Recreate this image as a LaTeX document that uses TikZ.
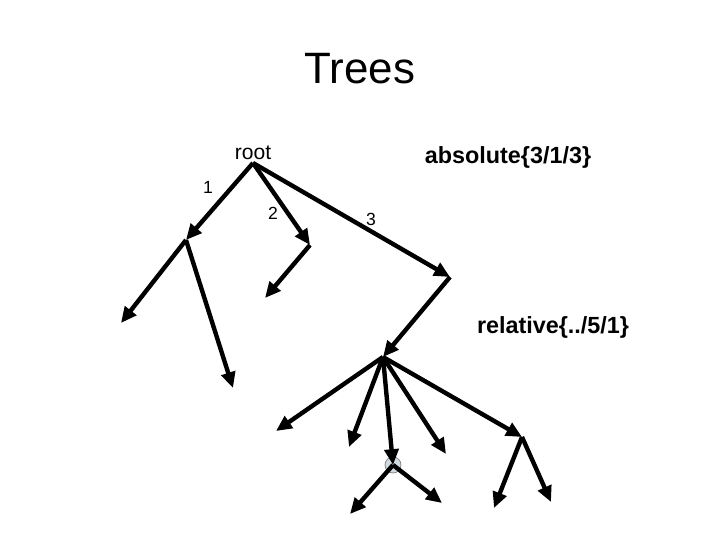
\documentclass[tikz,border=0pt]{standalone}
\usepackage{fontspec}
\setmainfont{Liberation Sans}
\usetikzlibrary{arrows.meta}
\begin{document}
\begin{tikzpicture}[x=0.02cm,y=-0.02cm,
  branch/.style={line width=2.5pt,-{Triangle[length=9pt,width=8pt]}},
  lbl/.style={inner sep=0pt,font=\fontsize{10}{12}\selectfont},
  note/.style={inner sep=0pt,font=\fontsize{13.3}{16}\bfseries}]
\useasboundingbox (0,0) rectangle (720,540);
\coordinate (root) at (253,163);
\coordinate (a) at (186,240);
\coordinate (aa) at (121,323);
\coordinate (ab) at (233,388);
\coordinate (b) at (310,245);
\coordinate (ba) at (265,298);
\coordinate (c) at (450,277);
\coordinate (d) at (383,357);
\coordinate (da) at (276,431);
\coordinate (db) at (349,447);
\coordinate (dc) at (393,465);
\coordinate (dd) at (446,454);
\coordinate (de) at (522,437);
\coordinate (dca) at (350,514);
\coordinate (dcb) at (442,503);
\coordinate (dea) at (494,508);
\coordinate (deb) at (551,502);
\node (title) at (360,69) {\fontsize{25}{30}\selectfont Trees};
\node[lbl,font=\fontsize{12}{14}\selectfont] (rootlbl) at (253,153) {root};
\node[lbl] (one) at (208,187) {1};
\node[lbl] (two) at (273,213) {2};
\node[lbl] (three) at (371,219) {3};
\node[note] (abs) at (508,157) {absolute\{3/1/3\}};
\node[note] (rel) at (553,327) {relative\{../5/1\}};
\filldraw[fill=cyan!20!gray!35,draw=gray] (dc) circle (8);
\draw[branch] (root)--(a);
\draw[branch] (root)--(b);
\draw[branch] (root)--(c);
\draw[branch] (a)--(aa);
\draw[branch] (a)--(ab);
\draw[branch] (b)--(ba);
\draw[branch] (c)--(d);
\draw[branch] (d)--(da);
\draw[branch] (d)--(db);
\draw[branch] (d)--(dc);
\draw[branch] (d)--(dd);
\draw[branch] (d)--(de);
\draw[branch] (dc)--(dca);
\draw[branch] (dc)--(dcb);
\draw[branch] (de)--(dea);
\draw[branch] (de)--(deb);
\end{tikzpicture}
\end{document}
